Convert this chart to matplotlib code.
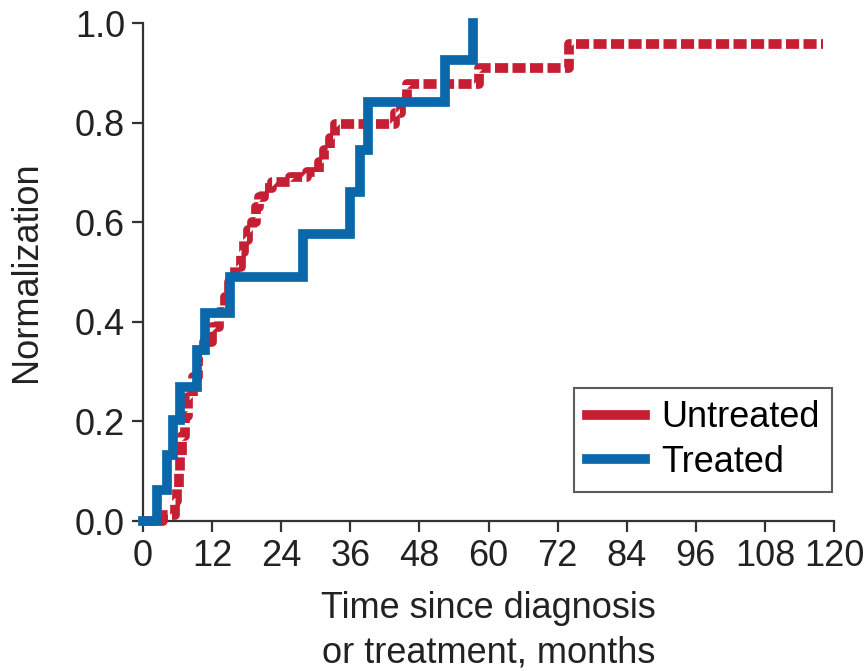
import matplotlib
matplotlib.use("Agg")
import matplotlib.pyplot as plt
from matplotlib.lines import Line2D

# step curves (months, cumulative fraction)
treated_t = [0, 2.4, 4.2, 5.2, 6.4, 9.4, 10.8, 15.1, 27.8, 36.0, 37.7, 39.0, 52.4, 57.3]
treated_v = [0, 0.062, 0.133, 0.203, 0.27, 0.343, 0.418, 0.49, 0.576, 0.66, 0.745, 0.842, 0.926, 1.0]

untreated_t = [0, 3.5, 5.6, 5.9, 6.2, 6.5, 6.8, 7.2, 7.8, 8.6, 9.6, 10.6, 12.0, 13.2, 14.3,
               15.0, 16.0, 17.0, 17.6, 18.2, 19.0, 19.6, 20.2, 21.0, 22.4, 25.5, 28.5,
               30.5, 31.5, 32.5, 33.3, 43.8, 44.8, 45.8, 58.3, 74.0, 118.0]
untreated_v = [0, 0.012, 0.04, 0.065, 0.10, 0.13, 0.17, 0.21, 0.25, 0.29, 0.33, 0.36, 0.39,
               0.42, 0.45, 0.48, 0.51, 0.54, 0.565, 0.585, 0.60, 0.63, 0.65, 0.668, 0.68,
               0.69, 0.70, 0.72, 0.745, 0.77, 0.797, 0.82, 0.85, 0.878, 0.91, 0.958, 0.958]

xticks = [0, 12, 24, 36, 48, 60, 72, 84, 96, 108, 120]
yticks = [0.0, 0.2, 0.4, 0.6, 0.8, 1.0]

red = '#C61F33'
blue = '#0A67AA'
fs = 26

plt.rcParams['font.family'] = ['Liberation Sans', 'DejaVu Sans']
fig = plt.figure(figsize=(8.67, 6.71), dpi=100)
ax = fig.add_axes([0.165, 0.2235, 0.797, 0.7422])

ax.step(untreated_t, untreated_v, where='post', color=red, lw=7,
        linestyle=(0, (1.35, 0.45)), clip_on=False, zorder=3)
ax.step(treated_t, treated_v, where='post', color=blue, lw=7,
        clip_on=False, zorder=4, solid_joinstyle='miter')

ax.set_xlim(0, 120)
ax.set_ylim(0, 1.0)
ax.set_xticks(xticks)
ax.set_xticklabels([str(x) for x in xticks])
ax.set_yticks(yticks)
ax.set_yticklabels(['%.1f' % y for y in yticks])
for s in ['top', 'right']:
    ax.spines[s].set_visible(False)
for s in ['left', 'bottom']:
    ax.spines[s].set_linewidth(1.6)
    ax.spines[s].set_color('#333333')
ax.tick_params(axis='both', direction='out', length=8, width=1.6, color='#333333',
               labelsize=fs, labelcolor='#222222', pad=5)

ax.set_xlabel('Time since diagnosis\nor treatment, months', fontsize=fs,
              color='#222222', labelpad=12, linespacing=1.35)
ax.set_ylabel('Normalization', fontsize=fs, color='#222222', labelpad=22)

handles = [Line2D([0], [0], color=red, lw=7), Line2D([0], [0], color=blue, lw=7)]
leg = ax.legend(handles, ['Untreated', 'Treated'], loc='lower right',
                bbox_to_anchor=(0.997, 0.058), fontsize=fs, frameon=True,
                fancybox=False, edgecolor='#333333', handlelength=1.6,
                handletextpad=0.45, borderpad=0.35, labelspacing=0.25,
                borderaxespad=0)
leg.get_frame().set_linewidth(1.5)

fig.savefig('out.png', dpi=100)
